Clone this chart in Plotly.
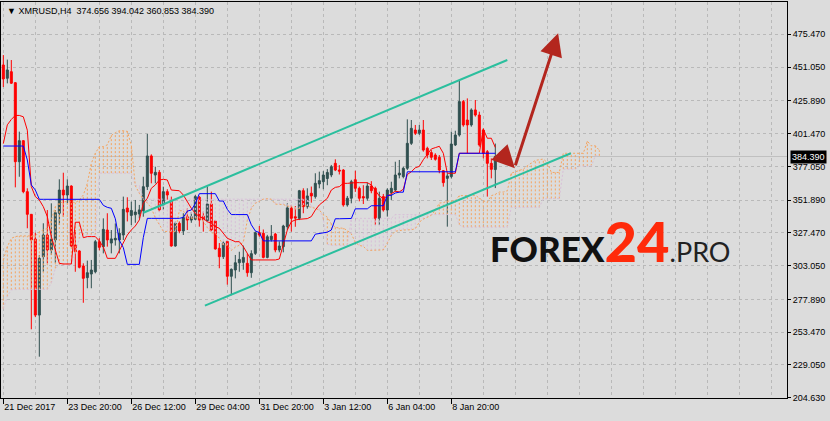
import plotly.graph_objects as go

# XMRUSD H4, bar 0 = 21 Dec 2017 04:00, one bar every 4 hours
opens = [452.6, 442.7, 447.6, 439.4, 380.5, 396.2, 358.2, 341.3, 322.9, 266.2,
         309.7, 325.9, 314.7, 322.2, 342.1, 359.4, 355.7, 362.4, 318.4, 314.0,
         302.8, 294.1, 296.8, 298.5, 320.9, 317.2, 329.6, 319.9, 322.2, 322.2,
         325.9, 346.0, 340.5, 341.0, 341.6, 344.0, 361.9, 384.8, 370.6, 372.6,
         348.3, 358.2, 352.0, 317.7, 334.6, 328.9, 339.5, 337.0, 337.6, 354.1,
         339.9, 336.6, 349.0, 336.3, 316.0, 309.7, 321.1, 295.1, 299.8, 305.2,
         305.5, 304.8, 297.8, 312.2, 327.6, 327.2, 309.2, 322.5, 326.6, 314.7,
         317.2, 332.1, 345.8, 339.5, 338.3, 358.9, 347.0, 357.0, 354.5, 363.9,
         365.6, 368.0, 370.6, 379.3, 374.3, 374.3, 348.3, 353.3, 367.1, 360.7,
         354.5, 353.3, 362.4, 360.7, 338.3, 354.5, 344.5, 357.5, 359.4, 370.6,
         369.4, 375.6, 394.2, 404.1, 401.7, 404.1, 390.5, 387.3, 385.5, 383.8,
         373.8, 368.1, 369.4, 393.0, 400.4, 425.3, 411.6, 407.9, 419.1, 415.3,
         404.1, 388.0, 379.3, 374.656]
highs = [460.0, 456.6, 456.3, 439.9, 402.9, 396.5, 360.7, 341.5, 327.6, 311.0,
         334.6, 344.5, 349.5, 344.5, 367.4, 372.3, 367.4, 362.9, 329.6, 314.5,
         304.8, 306.8, 307.3, 322.2, 323.5, 338.3, 342.1, 329.6, 334.5, 330.9,
         354.5, 354.0, 350.7, 352.0, 348.3, 369.3, 401.2, 386.0, 376.8, 374.3,
         361.9, 360.0, 354.5, 335.8, 336.0, 342.1, 345.7, 343.0, 355.7, 355.0,
         343.3, 361.9, 358.2, 337.0, 319.9, 321.0, 322.0, 301.0, 311.0, 313.4,
         318.0, 312.2, 314.5, 328.5, 332.6, 330.0, 326.0, 333.3, 327.5, 321.1,
         333.5, 349.5, 348.3, 347.5, 359.5, 360.7, 360.7, 362.0, 371.9, 373.1,
         373.5, 375.0, 378.1, 382.3, 378.0, 375.0, 355.0, 367.0, 373.8, 362.0,
         363.0, 365.0, 366.0, 361.9, 358.2, 356.5, 360.7, 365.6, 380.5, 381.8,
         376.8, 412.1, 411.6, 407.9, 407.9, 411.6, 391.7, 389.2, 386.8, 385.5,
         374.3, 371.9, 402.9, 403.6, 441.4, 426.5, 427.7, 420.3, 426.5, 417.8,
         405.4, 389.2, 383.0, 394.042]
lows = [436.2, 438.9, 438.5, 361.4, 369.3, 357.0, 330.9, 255.6, 264.7, 235.2,
        298.5, 304.8, 311.0, 305.2, 333.3, 339.5, 349.5, 316.9, 298.5, 301.0,
        275.4, 286.2, 286.2, 297.3, 314.5, 312.2, 317.2, 312.2, 318.0, 312.2,
        322.2, 336.0, 333.3, 335.0, 338.3, 339.5, 359.4, 364.4, 364.4, 343.3,
        344.6, 352.0, 317.2, 317.2, 327.2, 325.9, 329.6, 335.0, 337.0, 332.1,
        328.4, 336.0, 328.4, 315.0, 301.1, 308.0, 288.9, 281.0, 293.6, 298.5,
        300.0, 294.8, 294.0, 311.0, 324.6, 308.5, 308.5, 321.0, 313.0, 313.0,
        313.0, 329.6, 328.4, 332.0, 337.0, 342.1, 345.5, 350.0, 353.0, 360.7,
        360.0, 363.0, 369.0, 373.5, 371.0, 347.0, 347.0, 349.5, 358.0, 351.0,
        349.0, 351.5, 357.0, 333.3, 333.3, 343.3, 339.6, 352.0, 358.2, 368.1,
        368.1, 374.3, 393.0, 400.4, 400.4, 388.0, 383.0, 381.8, 381.3, 371.9,
        361.9, 332.1, 368.1, 392.2, 399.2, 406.6, 386.8, 406.6, 414.1, 391.7,
        383.0, 354.5, 368.1, 360.853]
closes = [442.2, 448.9, 439.0, 380.5, 396.2, 358.2, 341.3, 322.2, 266.2, 308.5,
          325.9, 314.7, 322.7, 342.5, 359.4, 355.7, 362.4, 317.7, 313.4, 301.8,
          293.6, 297.8, 299.8, 320.9, 316.7, 330.1, 322.2, 323.0, 323.4, 327.2,
          345.0, 343.0, 344.2, 343.0, 344.6, 361.9, 384.8, 371.9, 372.6, 344.6,
          358.2, 355.7, 317.7, 334.6, 328.9, 339.0, 337.0, 339.5, 354.5, 337.0,
          337.0, 349.0, 329.6, 315.5, 309.7, 319.9, 295.1, 300.3, 305.2, 307.7,
          309.2, 297.8, 312.0, 327.6, 325.9, 309.2, 324.6, 325.0, 314.7, 317.7,
          332.6, 346.1, 338.3, 338.5, 358.9, 347.0, 355.0, 355.0, 364.4, 366.4,
          370.6, 372.5, 376.8, 374.3, 373.5, 348.3, 353.3, 365.6, 360.7, 353.3,
          353.5, 362.4, 358.9, 338.3, 353.2, 344.5, 359.4, 360.7, 370.6, 372.0,
          375.6, 394.2, 405.4, 401.7, 404.1, 389.2, 385.5, 383.8, 382.3, 374.3,
          364.9, 369.9, 393.7, 400.4, 425.3, 407.9, 407.9, 419.1, 415.3, 393.0,
          386.8, 379.3, 374.8, 384.39]

# Ichimoku lines
tenkan = [394.0, 408.0, 412.0, 415.0, 415.0, 414.0, 404.0, 362.0, 354.5, 352.0,
          347.0, 339.6, 324.7, 314.7, 304.8, 304.3, 304.3, 304.3, 335.4, 335.4,
          323.9, 324.7, 324.7, 324.7, 321.4, 317.0, 308.5, 308.5, 308.5, 314.2,
          320.4, 325.9, 329.6, 332.6, 337.1, 349.5, 353.2, 360.7, 363.2, 366.9,
          367.4, 366.9, 359.4, 359.4, 358.9, 355.7, 350.7, 345.8, 342.0, 339.6,
          338.3, 335.8, 334.6, 332.1, 330.9, 327.1, 323.4, 322.2, 320.9, 320.9,
          317.2, 312.2, 307.3, 307.3, 307.3, 307.3, 307.3, 307.3, 307.3, 308.0,
          318.0, 329.6, 335.8, 337.1, 337.6, 337.8, 338.1, 339.6, 344.5, 348.3,
          350.7, 353.2, 359.4, 361.4, 361.9, 364.4, 364.4, 364.9, 364.9, 364.9,
          364.9, 364.9, 363.2, 359.0, 355.0, 353.0, 355.0, 357.0, 358.5, 358.0,
          360.0, 371.0, 373.0, 376.0, 377.0, 382.0, 386.0, 390.0, 391.0, 392.0,
          386.8, 371.9, 371.9, 371.9, 386.8, 386.8, 386.8, 386.8, 386.8, 386.8,
          404.8, 398.0, 398.0, 391.1]
kijun = [392.2, 392.2, 392.2, 392.2, 392.2, 392.2, 381.8, 363.2, 359.4, 352.5,
         352.5, 352.5, 352.5, 352.5, 352.5, 352.5, 352.5, 352.5, 352.5, 352.5,
         352.5, 352.5, 352.5, 352.5, 352.5, 348.0, 346.5, 345.8, 338.0, 322.0,
         316.5, 304.0, 304.0, 304.0, 304.0, 324.0, 338.3, 338.3, 338.3, 338.3,
         338.3, 338.3, 338.3, 338.3, 338.3, 339.0, 343.7, 344.5, 349.3, 356.7,
         356.7, 356.7, 356.7, 356.7, 351.2, 351.2, 345.0, 341.1, 341.1, 341.1,
         341.1, 341.1, 333.5, 328.9, 327.7, 321.5, 321.5, 321.5, 321.5, 321.5,
         321.5, 321.5, 321.5, 321.5, 321.5, 321.5, 321.5, 321.5, 326.5, 327.0,
         327.3, 328.0, 329.6, 338.0, 338.0, 338.0, 338.0, 338.2, 345.4, 345.4,
         345.4, 345.4, 347.7, 347.7, 347.7, 347.7, 355.4, 355.4, 357.2, 357.8,
         357.8, 373.0, 373.0, 373.0, 373.0, 373.0, 373.0, 373.0, 373.0, 373.0,
         373.0, 373.0, 373.0, 373.0, 386.8, 386.8, 386.8, 386.8, 386.8, 386.8,
         386.8, 386.8, 386.8, 386.8]
# cloud runs 26 bars past the last candle
span_a = [307.3, 317.2, 323.4, 324.7, 325.2, 325.2, 325.2, 325.2, 325.2, 328.4,
          329.6, 330.9, 337.1, 347.0, 349.5, 350.7, 350.7, 350.7, 350.0, 352.0,
          355.7, 364.4, 379.3, 386.8, 391.7, 391.7, 393.1, 400.1, 402.1, 403.6,
          403.6, 403.1, 392.9, 362.6, 357.0, 352.3, 349.8, 346.0, 338.6, 333.6,
          328.7, 328.4, 328.4, 328.4, 344.0, 344.0, 338.2, 338.6, 338.6, 338.6,
          336.1, 331.4, 327.5, 327.2, 323.3, 318.4, 318.3, 314.4, 316.8, 318.3,
          320.6, 336.8, 345.8, 349.5, 350.8, 352.6, 352.9, 352.6, 348.9, 348.9,
          348.6, 347.4, 347.2, 345.2, 345.7, 348.2, 347.5, 346.3, 345.7, 344.4,
          341.1, 339.2, 334.2, 331.7, 331.0, 331.0, 329.2, 326.7, 320.4, 318.1,
          317.5, 314.4, 314.4, 314.4, 314.4, 314.8, 319.8, 325.6, 328.7, 329.3,
          329.6, 329.7, 329.8, 330.6, 335.5, 337.7, 339.0, 340.6, 344.5, 349.7,
          350.0, 351.2, 351.2, 351.6, 355.2, 355.2, 355.2, 355.2, 355.5, 353.4,
          351.4, 350.4, 355.2, 356.2, 357.9, 357.9, 358.9, 372.0, 373.0, 374.5,
          375.0, 377.5, 379.5, 381.5, 382.0, 382.5, 379.9, 372.5, 372.5, 372.5,
          386.8, 386.8, 386.8, 386.8, 386.8, 386.8, 395.8, 392.4, 392.4, 389.0]
span_b = [271.0, 280.0, 285.0, 285.4, 285.4, 285.4, 285.4, 285.4, 285.4, 285.4,
          285.4, 285.4, 290.0, 301.0, 303.5, 303.5, 303.5, 303.5, 313.0, 323.0,
          326.0, 326.0, 326.0, 326.0, 372.0, 372.0, 372.0, 372.0, 372.0, 372.0,
          372.0, 372.0, 372.0, 362.8, 362.8, 352.6, 352.6, 352.6, 352.6, 352.6,
          352.6, 352.6, 352.6, 352.6, 352.6, 352.6, 352.6, 352.6, 352.6, 352.6,
          352.6, 352.6, 352.6, 352.6, 352.6, 352.6, 352.6, 352.6, 352.6, 352.6,
          352.6, 352.6, 352.6, 352.6, 352.6, 352.6, 352.6, 352.6, 352.6, 352.6,
          352.6, 352.6, 352.6, 352.6, 352.6, 352.6, 352.6, 347.6, 345.9, 345.8,
          337.5, 319.0, 318.2, 318.2, 318.2, 318.2, 318.2, 338.3, 338.3, 338.3,
          338.3, 338.3, 338.3, 338.3, 338.3, 338.3, 338.3, 338.3, 341.1, 341.1,
          341.1, 341.1, 341.1, 341.1, 341.1, 341.1, 341.1, 341.1, 341.1, 341.1,
          341.1, 341.1, 341.1, 341.1, 333.5, 331.7, 331.7, 331.7, 331.7, 331.7,
          331.7, 331.7, 331.7, 331.7, 331.7, 331.7, 331.7, 346.5, 346.5, 346.5,
          346.5, 346.5, 346.5, 346.5, 346.5, 352.9, 353.1, 353.1, 353.1, 353.1,
          375.0, 375.0, 375.0, 375.0, 377.2, 377.2, 377.2, 377.2, 384.9, 384.9]

# drawn objects (bar index, price)
channel_upper_x = [35.0, 126.0]
channel_upper_y = [342.5, 456.3]
channel_lower_x = [50.4, 141.9]
channel_lower_y = [273.2, 386.8]
arrow_small = (123.7, 388.7, 127.9, 375.6)   # tail x, tail y, head x, head y
arrow_big = (127.9, 376.8, 138.7, 476.2)

price_ticks = [204.63, 229.05, 253.47, 277.89, 303.05, 327.47,
               351.89, 377.05, 401.47, 425.89, 451.05, 475.47]
time_tick_bars = [0, 16, 32, 48, 64, 80, 96, 112]
time_tick_labels = ["21 Dec 2017", "23 Dec 20:00", "26 Dec 12:00", "29 Dec 04:00",
                    "31 Dec 20:00", "3 Jan 12:00", "6 Jan 04:00", "8 Jan 20:00"]

bars = list(range(len(opens)))
cloud_bars = list(range(len(span_a)))
bg = "#dcdcdc"
grid = "#b9b9b9"
font = "Liberation Sans, Arial, sans-serif"

# cloud hatching: one dotted vertical line per bar between the spans
up_x, up_y, dn_x, dn_y = [], [], [], []
for i, (a, b) in enumerate(zip(span_a, span_b)):
    if a >= b:
        up_x += [i, i, None]
        up_y += [b, a, None]
    else:
        dn_x += [i, i, None]
        dn_y += [a, b, None]

fig = go.Figure()
fig.add_scatter(x=up_x, y=up_y, mode="lines", line=dict(color="#f4a460", width=1, dash="2px,2px"))
fig.add_scatter(x=dn_x, y=dn_y, mode="lines", line=dict(color="#d8bfd8", width=1, dash="2px,2px"))
fig.add_scatter(x=cloud_bars, y=span_b, mode="lines", line=dict(color="#d8bfd8", width=1, dash="2px,2px"))
fig.add_scatter(x=cloud_bars, y=span_a, mode="lines", line=dict(color="#f4a460", width=1, dash="2px,2px"))

fig.add_candlestick(x=bars, open=opens, high=highs, low=lows, close=closes,
                    increasing=dict(line=dict(color="#2f4f4f", width=1), fillcolor="#2f4f4f"),
                    decreasing=dict(line=dict(color="#ff0000", width=1), fillcolor="#ff0000"),
                    whiskerwidth=0)

fig.add_scatter(x=bars, y=tenkan, mode="lines", line=dict(color="#ff0000", width=1))
fig.add_scatter(x=bars, y=kijun, mode="lines", line=dict(color="#0000ff", width=1))

fig.add_scatter(x=channel_upper_x, y=channel_upper_y, mode="lines", line=dict(color="#2bbf9e", width=2))
fig.add_scatter(x=channel_lower_x, y=channel_lower_y, mode="lines", line=dict(color="#2bbf9e", width=2))

# bid line
fig.add_shape(type="line", xref="paper", x0=0, x1=1, y0=closes[-1], y1=closes[-1],
              line=dict(color="#c0c0c0", width=1), layer="below")

for tx, ty, hx, hy in [arrow_small, arrow_big]:
    fig.add_annotation(x=hx, y=hy, ax=tx, ay=ty, xref="x", yref="y", axref="x", ayref="y",
                       text="", showarrow=True, arrowhead=2, arrowsize=1.5, arrowwidth=3,
                       arrowcolor="#b3261e", standoff=0)

header = "\u25bc XMRUSD,H4\u00a0\u00a0%.3f %.3f %.3f %.3f" % (opens[-1], highs[-1], lows[-1], closes[-1])
fig.add_annotation(x=0, y=1, xref="paper", yref="paper", xanchor="left", yanchor="top",
                   xshift=4, yshift=-2, text=header, showarrow=False,
                   font=dict(family=font, size=9, color="#000000"))

fig.add_annotation(x=1, y=closes[-1], xref="paper", yref="y", xanchor="left", yanchor="middle",
                   xshift=3, text="%.3f" % closes[-1], showarrow=False, bgcolor="#000000",
                   borderpad=1, font=dict(family=font, size=9, color="#ffffff"))

fig.add_annotation(x=0.62, y=0.308, xref="paper", yref="paper", xanchor="left", yanchor="bottom",
                   showarrow=False,
                   text="<span style='font-weight:900'>FOREX</span>"
                        "<span style='color:#ff2a0a;font-size:56px;font-weight:900'>24</span>"
                        "<span style='color:#222222;font-size:27px'>.PRO</span>",
                   font=dict(family="Lato, sans-serif", size=35, color="#111111"))

fig.update_layout(
    width=830, height=421,
    margin=dict(l=1, r=43, t=2, b=23),
    paper_bgcolor=bg, plot_bgcolor=bg,
    showlegend=False, hovermode=False,
    font=dict(family=font, size=9, color="#000000"),
)
fig.update_xaxes(range=[-0.58, 195.92], tickmode="array", tickvals=time_tick_bars,
                 ticktext=time_tick_labels, ticks="outside", ticklen=5, tickcolor="#000000",
                 ticklabelposition="outside right",
                 showline=True, linecolor="#000000", linewidth=1, mirror=True,
                 showgrid=True, gridcolor=grid, griddash="3px,3px", zeroline=False,
                 minor=dict(tickmode="linear", tick0=0, dtick=8, showgrid=True,
                            gridcolor=grid, griddash="3px,3px"),
                 rangeslider=dict(visible=False), tickfont=dict(size=9))
fig.update_yaxes(range=[204.41, 499.54], side="right", tickmode="array", tickvals=price_ticks,
                 ticktext=["%.3f" % v for v in price_ticks], ticks="outside", ticklen=3,
                 tickcolor="#000000", showline=True, linecolor="#000000", linewidth=1,
                 mirror=True, showgrid=True, gridcolor=grid, griddash="3px,3px",
                 zeroline=False, tickfont=dict(size=9))

# the page body has a default 8px margin; drop it so the chart sits at the window corner
fig.write_html("out.html", config={"displayModeBar": False},
               post_script="document.body.style.margin='0';")
